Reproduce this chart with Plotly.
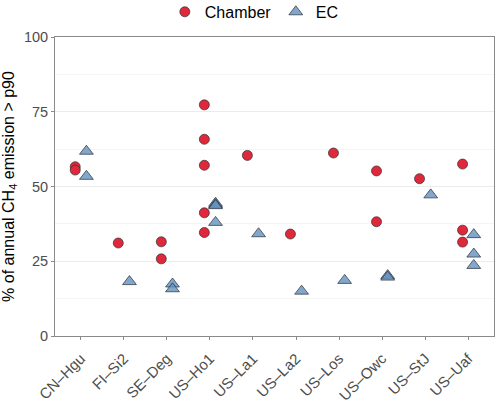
import plotly.graph_objects as go

sites = ["CN–Hgu", "FI–Si2", "SE–Deg", "US–Ho1", "US–La1",
         "US–La2", "US–Los", "US–Owc", "US–StJ", "US–Uaf"]

chamber_site = ["CN–Hgu", "CN–Hgu", "FI–Si2", "SE–Deg", "SE–Deg",
                "US–Ho1", "US–Ho1", "US–Ho1", "US–Ho1", "US–Ho1",
                "US–La1", "US–La2", "US–Los", "US–Owc", "US–Owc",
                "US–StJ", "US–Uaf", "US–Uaf", "US–Uaf"]
chamber_val = [56.6, 55.5, 31.1, 31.5, 25.8,
               77.3, 65.8, 57.1, 41.2, 34.6,
               60.4, 34.1, 61.2, 55.2, 38.2,
               52.6, 57.5, 35.4, 31.4]

ec_site = ["CN–Hgu", "CN–Hgu", "FI–Si2", "SE–Deg", "SE–Deg",
           "US–Ho1", "US–Ho1", "US–Ho1", "US–Ho1",
           "US–La1", "US–La2", "US–Los", "US–Owc", "US–Owc",
           "US–StJ", "US–Uaf", "US–Uaf", "US–Uaf"]
ec_val = [61.8, 53.4, 18.2, 17.4, 15.8,
          44.4, 43.9, 43.6, 38.0,
          34.2, 15.0, 18.6, 20.2, 19.7,
          47.2, 33.9, 27.4, 23.6]

y_ticks = [0, 25, 50, 75, 100]

FONT = "Liberation Sans, Arial, sans-serif"

fig = go.Figure()
fig.add_trace(go.Scatter(
    x=chamber_site, y=chamber_val, mode="markers", name="Chamber",
    offsetgroup="Chamber",
    marker=dict(symbol="circle", size=10, color="#E0283C",
                line=dict(color="rgba(50,50,50,0.9)", width=0.8)),
))
fig.add_trace(go.Scatter(
    x=ec_site, y=ec_val, mode="markers", name="EC",
    offsetgroup="EC",
    marker=dict(symbol="triangle-up", size=12, color="rgba(100,145,190,0.8)",
                line=dict(color="rgba(40,50,60,0.9)", width=0.8)),
))

fig.update_layout(
    width=500, height=403,
    margin=dict(l=55, r=6, t=37, b=67, autoexpand=False),
    paper_bgcolor="white", plot_bgcolor="white",
    font=dict(family=FONT, color="black"),
    scattermode="group", scattergap=0.48,
    legend=dict(orientation="h", x=0.503, xanchor="center",
                y=1.084, yanchor="middle",
                font=dict(size=16, color="black"), itemwidth=30,
                entrywidth=66,
                bgcolor="rgba(0,0,0,0)"),
)
fig.update_xaxes(
    type="category", categoryorder="array", categoryarray=sites,
    range=[-0.6, 9.6], tickangle=-45,
    tickfont=dict(size=15, color="#4D4D4D"), ticklabelstandoff=4,
    showgrid=False, showline=True, mirror=True, linecolor="#8A8A8A", linewidth=1,
    ticks="outside", ticklen=3, tickcolor="#8A8A8A", zeroline=False,
)
fig.update_yaxes(
    range=[0, 100], tickvals=y_ticks, ticktext=[str(v) for v in y_ticks],
    tickfont=dict(size=14.5, color="#4D4D4D"),
    title=dict(text="% of annual CH<sub>4</sub> emission > p90", font=dict(size=16, color="black"), standoff=6),
    showgrid=True, gridcolor="#EBEBEB", gridwidth=1,
    minor=dict(dtick=12.5, tick0=0, showgrid=True, gridcolor="#F4F4F4", gridwidth=0.8),
    showline=True, mirror=True, linecolor="#8A8A8A", linewidth=1,
    ticks="outside", ticklen=3, tickcolor="#8A8A8A", zeroline=False,
)

fig.write_html("out.html")
